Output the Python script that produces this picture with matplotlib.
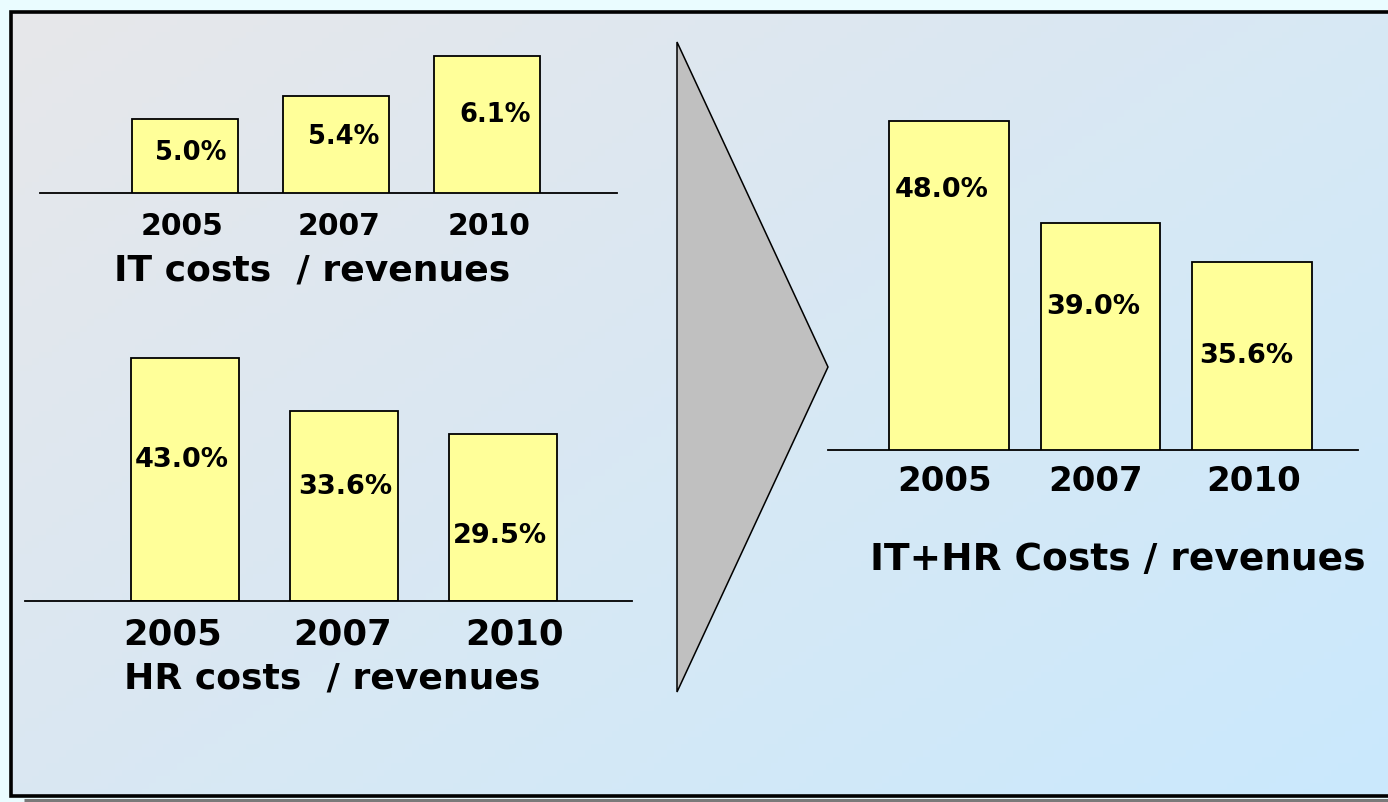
import matplotlib
matplotlib.use("Agg")
import matplotlib.pyplot as plt
import numpy as np
from matplotlib.patches import Polygon
from matplotlib.colors import to_rgb

# ---------------- data ----------------
years = ["2005", "2007", "2010"]
it_costs = [5.0, 5.4, 6.1]
hr_costs = [43.0, 33.6, 29.5]
it_hr_costs = [48.0, 39.0, 35.6]
it_title = "IT costs  / revenues"
hr_title = "HR costs  / revenues"
total_title = "IT+HR Costs / revenues"

W, H = 1388, 802
plt.rcParams['font.family'] = ['DejaVu Sans']
fig = plt.figure(figsize=(W / 100, H / 100), dpi=100)
fig.patch.set_facecolor("#eafcff")

def fx(x):
    return x / W

def fy(y):
    return 1 - y / H

# ---------------- background panel ----------------
bg = fig.add_axes([0, 0, 1, 1])
bg.set_xlim(0, W)
bg.set_ylim(H, 0)
bg.axis("off")
c1 = np.array(to_rgb("#e7e7ea"))
c2 = np.array(to_rgb("#cae9fd"))
gx, gy = np.meshgrid(np.linspace(0, 1, 200), np.linspace(0, 1, 120))
t = (gx * 0.55 + gy * 0.45)
grad = c1[None, None, :] * (1 - t[..., None]) + c2[None, None, :] * t[..., None]
bg.imshow(grad, extent=(11, W + 5, 796, 12), aspect="auto", zorder=0)
# shadow
bg.plot([24, W + 5], [799.5, 799.5], color="#7a7a7a", lw=2.2, zorder=1, solid_capstyle="butt")
# border
bg.plot([W + 5, 11, 11, W + 5], [12, 12, 796, 796], color="black", lw=2.6, zorder=2,
        solid_joinstyle="miter")
# arrow triangle
bg.add_patch(Polygon([(677, 42), (828, 367), (677, 692)], closed=True,
                     facecolor="#c0c0c0", edgecolor="black", lw=1.1, zorder=3))

BAR_FC = "#ffff99"

def bar_axes(x0, x1, ybase, ytop, ylim, xlim):
    ax = fig.add_axes([fx(x0), fy(ybase), fx(x1) - fx(x0), (ybase - ytop) / H])
    ax.patch.set_alpha(0)
    ax.set_xlim(*xlim)
    ax.set_ylim(*ylim)
    for s in ["top", "right", "left"]:
        ax.spines[s].set_visible(False)
    ax.spines["bottom"].set_linewidth(1.3)
    ax.set_yticks([])
    return ax

def draw(ax, vals, width, fsize_lbl, fsize_year, pad, lbl_frac, lbl_dx, tick_dx):
    x = np.arange(len(vals))
    ax.bar(x, vals, width=width, color=BAR_FC, edgecolor="black", linewidth=1.3, zorder=2)
    ax.set_xticks(x + np.array(tick_dx))
    ax.set_xticklabels(years, fontsize=fsize_year, fontweight="bold")
    ax.tick_params(axis="x", length=0, pad=pad)
    lo = ax.get_ylim()[0]
    for i, v in enumerate(vals):
        ax.text(i + lbl_dx[i], lo + lbl_frac[i] * (v - lo), f"{v:.1f}%",
                ha="center", va="center", fontsize=fsize_lbl, fontweight="bold", zorder=3)

# IT chart
ax1 = bar_axes(40, 617, 193, 30, (3.7, 6.556), (-0.96, 2.86))
draw(ax1, it_costs, 0.70, 18.5, 21.5, 14, [0.54, 0.58, 0.57], [0.04, 0.05, 0.05],
     [-0.02, 0.02, 0.01])
fig.text(fx(312), fy(270), it_title, ha="center", va="center", fontsize=26, fontweight="bold")

# HR chart
ax2 = bar_axes(25, 632, 601, 330, (0, 47.96), (-1.006, 2.81))
draw(ax2, hr_costs, 0.68, 19.5, 25.5, 12, [0.58, 0.60, 0.39], [-0.02, 0.01, -0.02],
     [-0.075, -0.01, 0.07])
fig.text(fx(332), fy(678), hr_title, ha="center", va="center", fontsize=26, fontweight="bold")

# IT+HR chart
ax3 = bar_axes(828, 1358, 450, 90, (19, 50.75), (-0.80, 2.70))
draw(ax3, it_hr_costs, 0.79, 19.5, 24.5, 11, [0.79, 0.63, 0.50], [-0.05, -0.05, -0.04],
     [-0.03, -0.03, 0.01])
fig.text(fx(1118), fy(560), total_title, ha="center", va="center", fontsize=27, fontweight="bold")

fig.savefig("out.png", dpi=100)
